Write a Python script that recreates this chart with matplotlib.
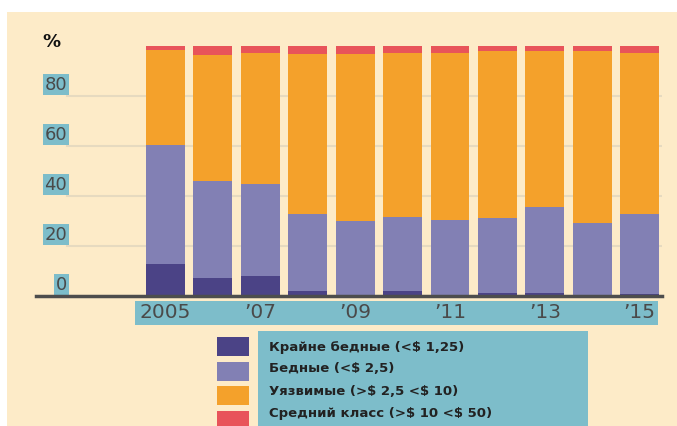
import numpy as np
import matplotlib.pyplot as plt
from matplotlib.patches import Rectangle
from matplotlib.transforms import blended_transform_factory

# data (shares of population, %)
years = ['2005', '2006', '2007', '2008', '2009', '2010', '2011', '2012', '2013', '2014', '2015']
year_labels = ['2005', '’07', '’09', '’11', '’13', '’15']
extreme_poor = [12.8, 7.2, 8.2, 2.2, 0.6, 2.2, 0.3, 1.3, 1.3, 0.4, 1.0]
poor = [47.6, 38.9, 36.5, 30.7, 29.6, 29.5, 30.1, 29.8, 34.4, 28.8, 31.8]
vulnerable = [38.0, 50.4, 52.7, 64.1, 66.8, 65.7, 67.0, 66.8, 62.2, 68.7, 64.6]
middle = [1.6, 3.5, 2.6, 3.0, 3.0, 2.6, 2.6, 2.1, 2.1, 2.1, 2.6]
y_ticks = [0, 20, 40, 60, 80]

labels = [r'Крайне бедные (<\$ 1,25)', r'Бедные (<\$ 2,5)',
          r'Уязвимые (>\$ 2,5 <\$ 10)', r'Средний класс (>\$ 10 <\$ 50)']
colors = ['#4B4386', '#8280B4', '#F4A12B', '#E8545A']

CREAM = '#FDEBC8'
BLUE = '#7DBDCA'
W, H = 677, 426


def fx(px):
    return px / W


def fy(py):
    return 1 - py / H


fig = plt.figure(figsize=(6.77, 4.26), dpi=100, facecolor='white')
fig.patches.append(Rectangle((fx(7), 0), 1 - fx(7), fy(12), transform=fig.transFigure,
                             facecolor=CREAM, edgecolor='none', zorder=-10))
# x label band and legend box (under the axes)
fig.patches.append(Rectangle((fx(135), fy(325)), fx(658) - fx(135), (325 - 301) / H,
                             transform=fig.transFigure, facecolor=BLUE, edgecolor='none', zorder=-5))
fig.patches.append(Rectangle((fx(258), 0), fx(588) - fx(258), fy(331),
                             transform=fig.transFigure, facecolor=BLUE, edgecolor='none', zorder=-5))

ax = fig.add_axes([fx(36), fy(296), fx(662) - fx(36), (296 - 36) / H])
ax.set_facecolor('none')
x = np.arange(len(years))
ax.set_xlim(-2.73, 10.47)
ax.set_ylim(0, 104)

for v in y_ticks[1:]:
    ax.axhline(v, xmin=31 / 626, color='#E6DAC0', lw=1.5, zorder=0)

series = [extreme_poor, poor, vulnerable, middle]
bottom = np.zeros(len(years))
for vals, c in zip(series, colors):
    ax.bar(x, vals, bottom=bottom, width=0.82, color=c, zorder=2)
    bottom += np.array(vals)

for s in ['top', 'left', 'right']:
    ax.spines[s].set_visible(False)
ax.spines['bottom'].set_color('#4d4d4d')
ax.spines['bottom'].set_linewidth(2.5)
ax.spines['bottom'].set_zorder(3)
ax.set_xticks([])
ax.set_yticks([])

# y labels with blue highlight
tr = blended_transform_factory(ax.transAxes, ax.transData)
for v in y_ticks:
    ax.text(31 / 626, v + 4.6, str(v), transform=tr, ha='right', va='center',
            fontsize=13, color='#4a4a4a',
            bbox=dict(facecolor=BLUE, edgecolor='none', pad=1.2))
fig.text(fx(51), fy(42), '%', ha='center', va='center', fontsize=13, fontweight='bold', color='#111111')

trx = blended_transform_factory(ax.transData, fig.transFigure)
for i, lab in zip(x[::2], year_labels):
    ax.text(i, fy(313), lab, transform=trx, ha='center', va='center',
            fontsize=14.5, color='#4a4a4a', clip_on=False)

# legend
sq_y = [337, 361.5, 386, 411]
txt_y = [348, 368.5, 391.5, 413]
for c, lab, sy, ty in zip(colors, labels, sq_y, txt_y):
    fig.patches.append(Rectangle((fx(217), fy(sy + 19)), fx(249) - fx(217), 19 / H,
                                 transform=fig.transFigure, facecolor=c, edgecolor='none'))
    fig.text(fx(269), fy(ty), lab, ha='left', va='center', fontsize=9.5,
             fontweight='bold', color='#222222')

fig.savefig('out.png', dpi=100, facecolor='white')
